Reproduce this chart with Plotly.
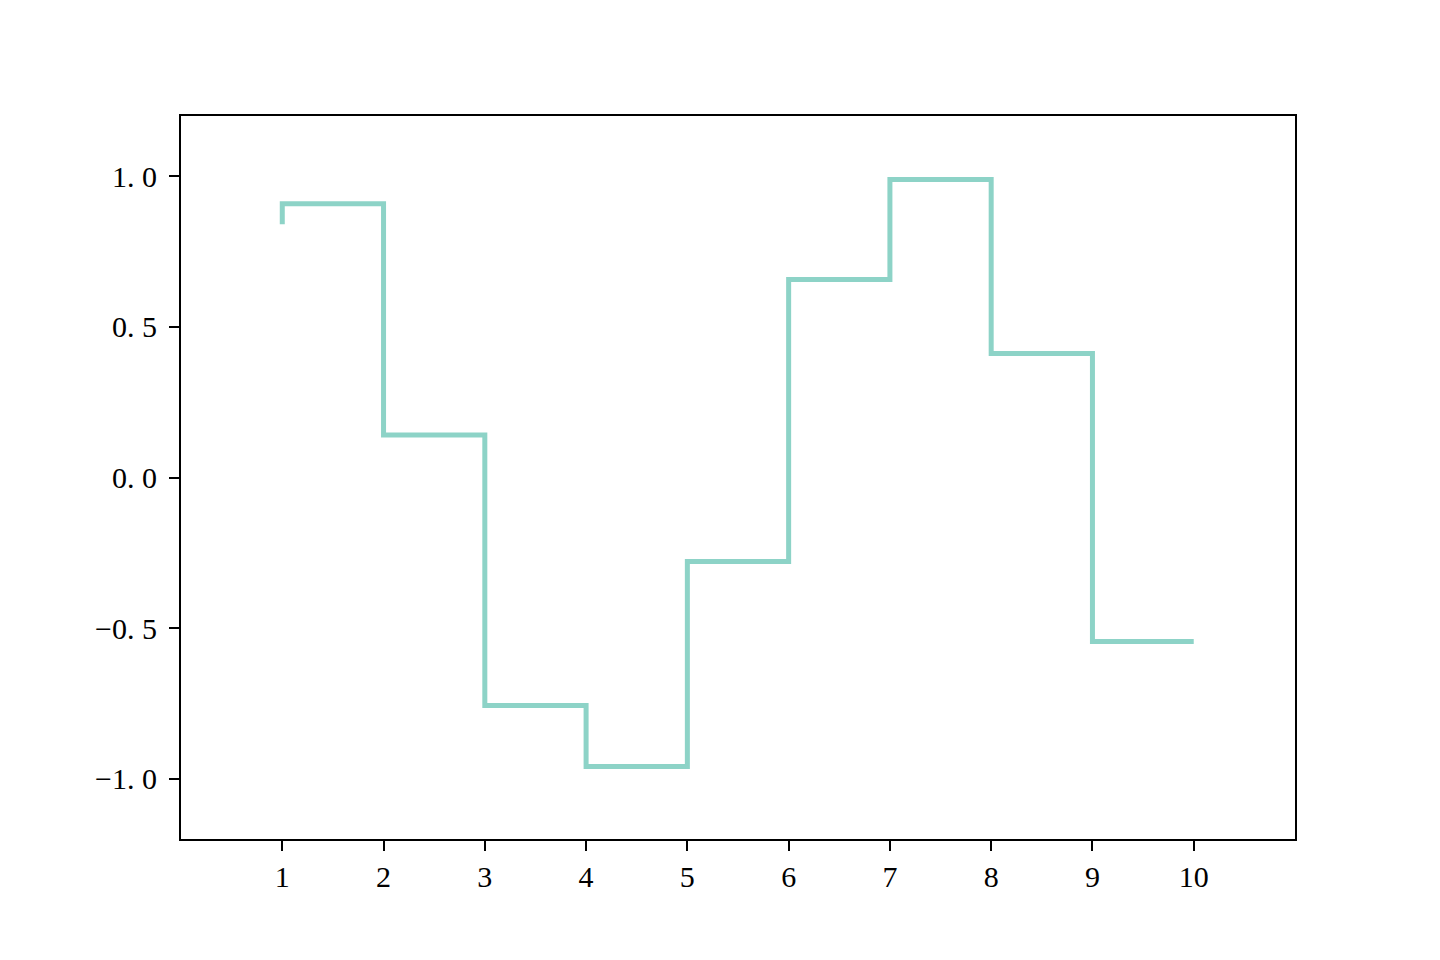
import plotly.graph_objects as go

x_vals = [1, 2, 3, 4, 5, 6, 7, 8, 9, 10]
y_vals = [0.841, 0.909, 0.141, -0.757, -0.959, -0.279, 0.657, 0.989, 0.412, -0.544]
x_ticks = [1, 2, 3, 4, 5, 6, 7, 8, 9, 10]
x_ticktext = ["1", "2", "3", "4", "5", "6", "7", "8", "9", "10"]
y_ticks = [-1.0, -0.5, 0.0, 0.5, 1.0]
y_ticktext = ["\u22121.\u20050", "\u22120.\u20055", "0.\u20050", "0.\u20055", "1.\u20050"]

fig = go.Figure()
fig.add_trace(go.Scatter(
    x=x_vals, y=y_vals, mode="lines",
    line=dict(color="#8dd3c7", width=5, shape="vh"),
    showlegend=False, hoverinfo="skip",
))

font = dict(family="Liberation Serif, DejaVu Serif, serif", size=30, color="black")
axis_common = dict(
    showgrid=False, zeroline=False, showline=True, linecolor="black", linewidth=2,
    mirror=True, ticks="outside", ticklen=10, tickwidth=2, tickcolor="black",
    tickfont=font,
)
fig.update_xaxes(range=[0, 11], tickvals=x_ticks, ticktext=x_ticktext,
                 ticklabelstandoff=0, **axis_common)
fig.update_yaxes(range=[-1.2, 1.2], tickvals=y_ticks, ticktext=y_ticktext,
                 ticklabelstandoff=6, **axis_common)

fig.update_layout(
    width=1440, height=960,
    margin=dict(l=173, r=153, t=108, b=129, autoexpand=False),
    paper_bgcolor="white", plot_bgcolor="white",
)
fig.write_html("out.html")
